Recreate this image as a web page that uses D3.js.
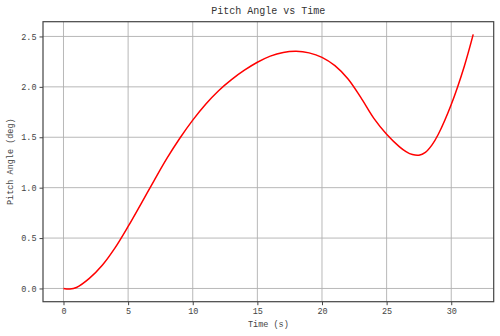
<!DOCTYPE html>
<html><head><meta charset="utf-8">
<script src="https://cdn.jsdelivr.net/npm/d3@7"></script>
<style>body{margin:0;background:#fff}svg{display:block}</style>
</head><body>
<script>
const times  = [0,0.5,1,2,3,4,5,6,7,8,9,10,11,12,13,14,15,16,17,18,19,20,21,22,23,24,25,26,26.5,27,27.5,28,28.5,29,30,31,31.7];
const pitch  = [0,-0.005,0.01,0.10,0.23,0.405,0.615,0.84,1.068,1.29,1.49,1.67,1.828,1.962,2.072,2.165,2.244,2.305,2.341,2.352,2.337,2.293,2.21,2.08,1.895,1.69,1.53,1.405,1.358,1.328,1.322,1.35,1.422,1.53,1.825,2.2,2.52];
const xTicks = [0,5,10,15,20,25,30];
const yTicks = [0,0.5,1.0,1.5,2.0,2.5];
const title = "Pitch Angle vs Time", xLabel = "Time (s)", yLabel = "Pitch Angle (deg)";

const W=500,H=336, m={l:43,r:6.3,t:21.7,b:34.3};
const svg=d3.select("body").append("svg").attr("width",W).attr("height",H);
const font="'Liberation Mono', monospace";
const xmin=d3.min(times), xmax=d3.max(times), ymin=d3.min(pitch), ymax=d3.max(pitch);
const dx=(xmax-xmin)*0.05, dy=(ymax-ymin)*0.05;
const x=d3.scaleLinear().domain([xmin-dx,xmax+dx]).range([m.l,W-m.r]);
const y=d3.scaleLinear().domain([ymin-dy,ymax+dy]).range([H-m.b,m.t]);

// grid
svg.append("g").selectAll("line").data(xTicks).join("line")
 .attr("x1",d=>x(d)).attr("x2",d=>x(d)).attr("y1",m.t).attr("y2",H-m.b)
 .attr("stroke","#b0b0b0").attr("stroke-width",0.9);
svg.append("g").selectAll("line").data(yTicks).join("line")
 .attr("y1",d=>y(d)).attr("y2",d=>y(d)).attr("x1",m.l).attr("x2",W-m.r)
 .attr("stroke","#b0b0b0").attr("stroke-width",0.9);

// line
svg.append("path").datum(times.map((t,i)=>[t,pitch[i]]))
 .attr("fill","none").attr("stroke","#ff0000").attr("stroke-width",1.5)
 .attr("d",d3.line().x(d=>x(d[0])).y(d=>y(d[1])).curve(d3.curveCatmullRom.alpha(0.5)));

// axes
const xa=svg.append("g").attr("transform",`translate(0,${H-m.b})`)
 .call(d3.axisBottom(x).tickValues(xTicks).tickSize(3.5).tickPadding(3).tickFormat(d3.format("d")));
const ya=svg.append("g").attr("transform",`translate(${m.l},0)`)
 .call(d3.axisLeft(y).tickValues(yTicks).tickSize(3.5).tickPadding(3).tickFormat(d3.format(".1f")));
[xa,ya].forEach(a=>{a.select(".domain").remove();
 a.selectAll("line").attr("stroke","#444");
 a.selectAll("text").attr("font-family",font).attr("font-size",8.5).attr("fill","#444");});

// frame
svg.append("rect").attr("x",m.l).attr("y",m.t).attr("width",W-m.r-m.l).attr("height",H-m.b-m.t)
 .attr("fill","none").attr("stroke","#444").attr("stroke-width",1.2);

svg.append("text").attr("x",(m.l+W-m.r)/2).attr("y",14).attr("text-anchor","middle")
 .attr("font-family",font).attr("font-size",10).attr("fill","#333").text(title);
svg.append("text").attr("x",(m.l+W-m.r)/2).attr("y",327).attr("text-anchor","middle")
 .attr("font-family",font).attr("font-size",8.5).attr("fill","#444").text(xLabel);
svg.append("text").attr("transform",`translate(13,${(m.t+H-m.b)/2}) rotate(-90)`).attr("text-anchor","middle")
 .attr("font-family",font).attr("font-size",8.5).attr("fill","#444").text(yLabel);
</script>
</body></html>
